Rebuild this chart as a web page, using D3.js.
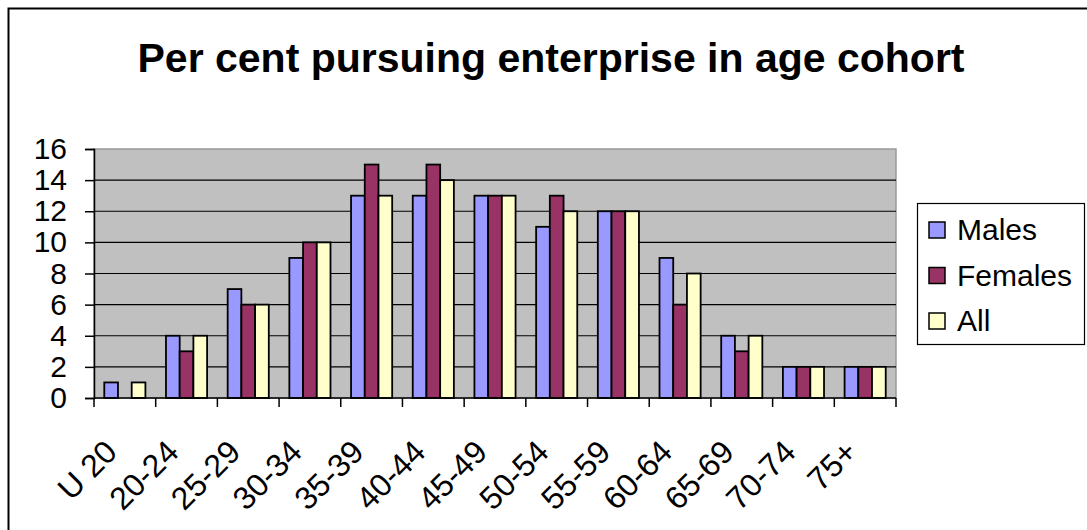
<!DOCTYPE html>
<html>
<head>
<meta charset="utf-8">
<script src="https://cdn.jsdelivr.net/npm/d3@7"></script>
<style>
  body { margin: 0; background: #fff; }
  svg { display: block; font-family: "Liberation Sans", Arial, sans-serif; }
</style>
</head>
<body>
<div id="chart"></div>
<script>
const categories = ["U 20", "20-24", "25-29", "30-34", "35-39", "40-44", "45-49", "50-54", "55-59", "60-64", "65-69", "70-74", "75+"];
const seriesNames = ["Males", "Females", "All"];
const males = [1, 4, 7, 9, 13, 13, 13, 11, 12, 9, 4, 2, 2];
const females = [0, 3, 6, 10, 15, 15, 13, 13, 12, 6, 3, 2, 2];
const all = [1, 4, 6, 10, 13, 14, 13, 12, 12, 8, 4, 2, 2];
const yTicks = [0, 2, 4, 6, 8, 10, 12, 14, 16];
const colors = ["#9999ff", "#993366", "#ffffcc"];

const width = 1087, height = 530;
const plot = { left: 94, right: 896, top: 149, bottom: 398 };

const svg = d3.select("#chart").append("svg")
  .attr("width", width)
  .attr("height", height);

// outer chart frame (runs off right and bottom edge)
svg.append("rect")
  .attr("x", 8.5).attr("y", 8.5)
  .attr("width", width + 20).attr("height", height + 20)
  .attr("fill", "none").attr("stroke", "#000").attr("stroke-width", 2);

svg.append("text")
  .attr("x", 551).attr("y", 72)
  .attr("text-anchor", "middle")
  .attr("font-weight", "bold")
  .attr("font-size", 41)
  .text("Per cent pursuing enterprise in age cohort");

const x0 = d3.scaleBand().domain(categories).range([plot.left, plot.right]);
const bw = x0.bandwidth() / 4.5; // gap width 150%
const y = d3.scaleLinear().domain([0, 16]).range([plot.bottom, plot.top]);

const data = categories.map((c, i) => ({
  cat: c,
  values: [males[i], females[i], all[i]],
}));

// plot background
svg.append("rect")
  .attr("x", plot.left).attr("y", plot.top)
  .attr("width", plot.right - plot.left).attr("height", plot.bottom - plot.top)
  .attr("fill", "#c0c0c0")
  .attr("stroke", "#999").attr("stroke-width", 1.5);

// gridlines
svg.append("g")
  .selectAll("line")
  .data(yTicks.filter((d) => d > 0 && d < 16))
  .join("line")
  .attr("x1", plot.left).attr("x2", plot.right)
  .attr("y1", (d) => y(d)).attr("y2", (d) => y(d))
  .attr("stroke", "#000").attr("stroke-width", 1.2);

// bars
const groups = svg.append("g")
  .selectAll("g")
  .data(data)
  .join("g")
  .attr("transform", (d) => `translate(${x0(d.cat) + bw * 0.75},0)`);

groups.selectAll("rect")
  .data((d) => d.values.map((v, k) => ({ v, k })).filter((e) => e.v > 0))
  .join("rect")
  .attr("x", (d) => d.k * bw)
  .attr("y", (d) => y(d.v))
  .attr("width", bw)
  .attr("height", (d) => y(0) - y(d.v))
  .attr("fill", (d) => colors[d.k])
  .attr("stroke", "#000")
  .attr("stroke-width", 1.8);

// y axis
const gY = svg.append("g")
  .attr("transform", `translate(${plot.left},0)`)
  .call(d3.axisLeft(y).tickValues(yTicks).tickSize(9).tickPadding(18));
gY.select(".domain").attr("stroke-width", 1.5);
gY.selectAll(".tick line").attr("stroke-width", 1.5);
gY.selectAll("text")
  .attr("font-size", 30)
  .attr("font-family", "Liberation Sans, Arial, sans-serif")
  .attr("fill", "#000");

// x axis: ticks between categories
const gX = svg.append("g")
  .attr("transform", `translate(0,${plot.bottom})`);
gX.append("line")
  .attr("x1", plot.left).attr("x2", plot.right)
  .attr("stroke", "#000").attr("stroke-width", 1.5);
gX.selectAll(".tk")
  .data(categories.concat([null]))
  .join("line")
  .attr("class", "tk")
  .attr("x1", (d, i) => plot.left + i * x0.step())
  .attr("x2", (d, i) => plot.left + i * x0.step())
  .attr("y1", 0).attr("y2", 9)
  .attr("stroke", "#000").attr("stroke-width", 1.5);
gX.selectAll(".lbl")
  .data(categories)
  .join("text")
  .attr("class", "lbl")
  .attr("text-anchor", "end")
  .attr("font-size", 32)
  .attr("transform", (d) => `translate(${x0(d) + x0.bandwidth() / 2 - 6},56) rotate(-45)`)
  .text((d) => d);

// legend
const legend = svg.append("g").attr("transform", "translate(917,203)");
legend.append("rect")
  .attr("x", 0.5).attr("y", 0.5)
  .attr("width", 167).attr("height", 141)
  .attr("fill", "#fff").attr("stroke", "#000").attr("stroke-width", 1.2);
const item = legend.selectAll(".item")
  .data(seriesNames)
  .join("g")
  .attr("class", "item")
  .attr("transform", (d, i) => `translate(12,${19 + i * 45.5})`);
item.append("rect")
  .attr("width", 16).attr("height", 16)
  .attr("fill", (d, i) => colors[i])
  .attr("stroke", "#000").attr("stroke-width", 1.5);
item.append("text")
  .attr("x", 28).attr("y", 18)
  .attr("font-size", 30)
  .text((d) => d);
</script>
</body>
</html>
